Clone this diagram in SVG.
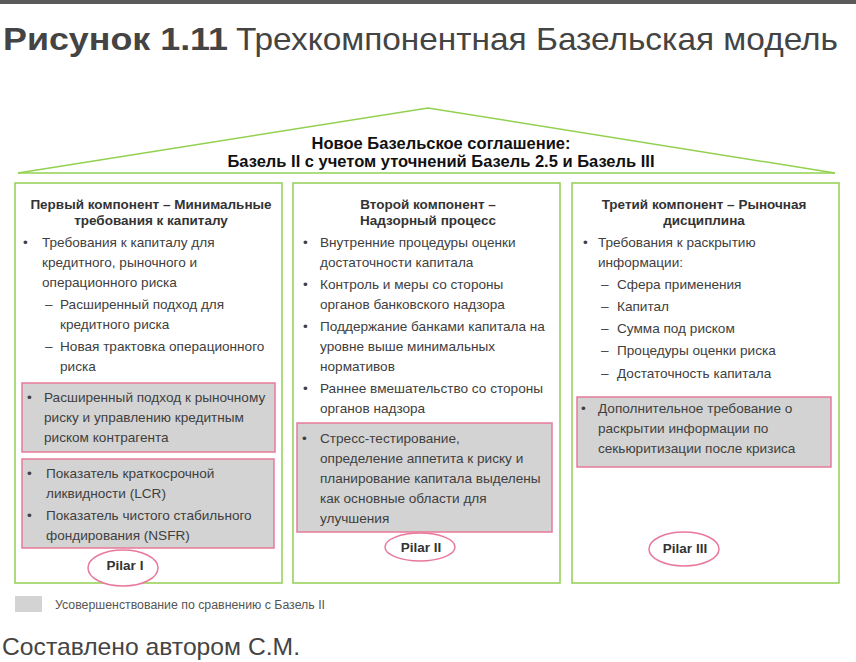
<svg xmlns="http://www.w3.org/2000/svg" width="856" height="662" viewBox="0 0 856 662">
<style>
text{font-family:"Liberation Sans",Arial,sans-serif;}
.t{font-size:13.6px;fill:#404040;}
.h{font-size:13.5px;font-weight:bold;fill:#333;text-anchor:middle;}
.r{font-size:16.5px;font-weight:bold;fill:#111;text-anchor:middle;}
.p{font-size:13.5px;font-weight:bold;fill:#333;text-anchor:middle;}
.box{fill:#fff;stroke:#92d050;stroke-width:1.5;}
.g{fill:#d3d3d3;stroke:#e8799a;stroke-width:1.5;}
.el{fill:#fff;stroke:#e8799a;stroke-width:1.5;}
</style>
<rect x="0" y="0" width="856" height="4" fill="#5a5a5a"/>
<text x="3" y="50" font-size="32" font-weight="bold" fill="#444" textLength="225" lengthAdjust="spacingAndGlyphs">Рисунок 1.11</text>
<text x="236" y="50" font-size="32" fill="#444" textLength="602" lengthAdjust="spacingAndGlyphs">Трехкомпонентная Базельская модель</text>

<g id="roof">
<polyline points="18,173 428,108 835,173" fill="none" stroke="#92d050" stroke-width="1.5"/>
<line x1="18" y1="173" x2="835" y2="173" stroke="#92d050" stroke-width="1.5"/>
<text class="r" x="441" y="149">Новое Базельское соглашение:</text>
<text class="r" x="441" y="167">Базель II с учетом уточнений Базель 2.5 и Базель III</text>
</g>

<g id="pillar1">
<rect class="box" x="15" y="183" width="267" height="400"/>
<text class="h" x="151" y="209">Первый компонент – Минимальные</text>
<text class="h" x="151" y="225">требования к капиталу</text>
<text class="t" x="23" y="247">•</text>
<text class="t" x="42" y="247">Требования к капиталу для</text>
<text class="t" x="42" y="267">кредитного, рыночного и</text>
<text class="t" x="42" y="287">операционного риска</text>
<text class="t" x="45" y="309">–</text>
<text class="t" x="60" y="309">Расширенный подход для</text>
<text class="t" x="60" y="329">кредитного риска</text>
<text class="t" x="45" y="351">–</text>
<text class="t" x="60" y="351">Новая трактовка операционного</text>
<text class="t" x="60" y="371">риска</text>
<rect class="g" x="22" y="383" width="253" height="69"/>
<text class="t" x="27" y="402">•</text>
<text class="t" x="44" y="402">Расширенный подход к рыночному</text>
<text class="t" x="44" y="422">риску и управлению кредитным</text>
<text class="t" x="44" y="442">риском контрагента</text>
<rect class="g" x="22" y="459" width="252" height="89"/>
<text class="t" x="27" y="478">•</text>
<text class="t" x="46" y="478">Показатель краткосрочной</text>
<text class="t" x="46" y="498">ликвидности (LCR)</text>
<text class="t" x="27" y="520">•</text>
<text class="t" x="46" y="520">Показатель чистого стабильного</text>
<text class="t" x="46" y="540">фондирования (NSFR)</text>
<ellipse class="el" cx="123" cy="568" rx="35" ry="18"/>
<text class="p" x="125" y="570">Pilar I</text>
</g>

<g id="pillar2">
<rect class="box" x="293" y="183" width="267" height="400"/>
<text class="h" x="428" y="209">Второй компонент –</text>
<text class="h" x="428" y="225">Надзорный процесс</text>
<text class="t" x="303" y="247">•</text>
<text class="t" x="320" y="247">Внутренние процедуры оценки</text>
<text class="t" x="320" y="267">достаточности капитала</text>
<text class="t" x="303" y="289">•</text>
<text class="t" x="320" y="289">Контроль и меры со стороны</text>
<text class="t" x="320" y="309">органов банковского надзора</text>
<text class="t" x="303" y="331">•</text>
<text class="t" x="320" y="331">Поддержание банками капитала на</text>
<text class="t" x="320" y="351">уровне выше минимальных</text>
<text class="t" x="320" y="371">нормативов</text>
<text class="t" x="303" y="393">•</text>
<text class="t" x="320" y="393">Раннее вмешательство со стороны</text>
<text class="t" x="320" y="413">органов надзора</text>
<rect class="g" x="297" y="423" width="255" height="109"/>
<text class="t" x="302" y="443">•</text>
<text class="t" x="320" y="443">Стресс-тестирование,</text>
<text class="t" x="320" y="463">определение аппетита к риску и</text>
<text class="t" x="320" y="483">планирование капитала выделены</text>
<text class="t" x="320" y="503">как основные области для</text>
<text class="t" x="320" y="523">улучшения</text>
<ellipse class="el" cx="420" cy="547" rx="35" ry="14"/>
<text class="p" x="421" y="552">Pilar II</text>
</g>

<g id="pillar3">
<rect class="box" x="572" y="183" width="267" height="400"/>
<text class="h" x="704" y="209">Третий компонент – Рыночная</text>
<text class="h" x="704" y="225">дисциплина</text>
<text class="t" x="583" y="247">•</text>
<text class="t" x="598" y="247">Требования к раскрытию</text>
<text class="t" x="598" y="267">информации:</text>
<text class="t" x="601" y="289">–</text>
<text class="t" x="617" y="289">Сфера применения</text>
<text class="t" x="601" y="311">–</text>
<text class="t" x="617" y="311">Капитал</text>
<text class="t" x="601" y="333">–</text>
<text class="t" x="617" y="333">Сумма под риском</text>
<text class="t" x="601" y="355">–</text>
<text class="t" x="617" y="355">Процедуры оценки риска</text>
<text class="t" x="601" y="378">–</text>
<text class="t" x="617" y="378">Достаточность капитала</text>
<rect class="g" x="577" y="397" width="254" height="70"/>
<text class="t" x="581" y="413">•</text>
<text class="t" x="598" y="413">Дополнительное требование о</text>
<text class="t" x="598" y="433">раскрытии информации по</text>
<text class="t" x="598" y="453">секьюритизации после кризиса</text>
<ellipse class="el" cx="684" cy="549" rx="35" ry="17"/>
<text class="p" x="685" y="553">Pilar III</text>
</g>

<g id="legend">
<rect x="15" y="596" width="27" height="16" fill="#d3d3d3"/>
<text x="55" y="609" font-size="12.3" fill="#555" textLength="270" lengthAdjust="spacingAndGlyphs">Усовершенствование по сравнению с Базель II</text>
</g>
<text x="2" y="655" font-size="24" fill="#444" textLength="298" lengthAdjust="spacingAndGlyphs">Составлено автором С.М.</text>
</svg>
